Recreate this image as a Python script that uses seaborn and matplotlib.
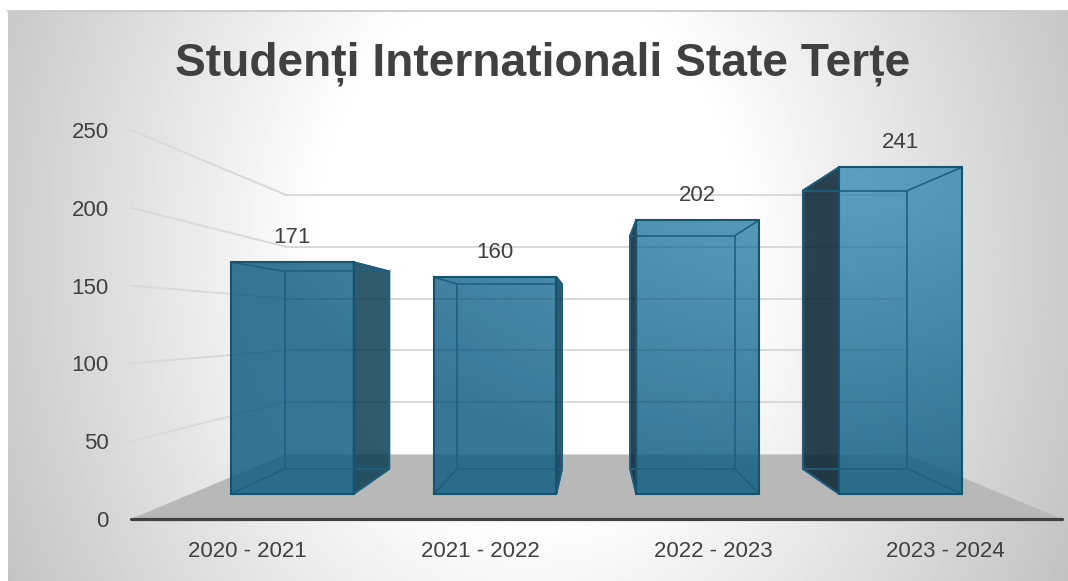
import numpy as np
import matplotlib
matplotlib.use("Agg")
import matplotlib.pyplot as plt
import seaborn as sns
from matplotlib.colors import to_rgba
from matplotlib.patches import Polygon
from matplotlib.transforms import Affine2D, IdentityTransform

categories = ['2020 - 2021', '2021 - 2022', '2022 - 2023', '2023 - 2024']
values = [171, 160, 202, 241]
y_ticks = [0, 50, 100, 150, 200, 250]
title = 'Studenți Internationali State Terțe'

W, H = 1068, 581
TEXT = '#404040'
VP = np.array([595.0, H - 324.5])  # vanishing point, display coords
S_BAR_FRONT, S_BAR_BACK, S_WALL = 0.871, 0.742, 0.668
BASE_DARK = np.array([18, 95, 131]) / 255
BASE_LIGHT = np.array([66, 147, 185]) / 255
SIDE_COLORS = ['#0b3d54', '#0b3d54', '#062231', '#062231']

sns.set_theme(style='white')
plt.rcParams['font.family'] = ['Liberation Sans', 'DejaVu Sans']

fig = plt.figure(figsize=(W / 100, H / 100), dpi=100, facecolor='white')

# grey radial background of the chart area
bg = fig.add_axes([8 / W, 0, (W - 8) / W, (H - 11) / H], zorder=-1)
yy, xx = np.mgrid[11:581, 8:W]
r = np.hypot(xx - 530, (yy - 250) * 0.8)
shade = np.clip(1 - 0.00062 * (r - 210), 0, 1)
bg.imshow(shade, cmap='gray', vmin=0, vmax=1, aspect='auto')
bg.set_xticks([])
bg.set_yticks([])
for name, spine in bg.spines.items():
    spine.set_visible(name == 'top')
    spine.set_color('#c8c8c8')

ax = fig.add_axes([131 / W, (H - 519) / H, 931 / W, 389 / H], zorder=1)
ax.patch.set_visible(False)
sns.barplot(x=categories, y=values, width=0.606, fill=False, color='#15536f',
            linewidth=1.5, ax=ax, zorder=6)
bars = list(ax.patches)
ax.set_xlim(-0.5, 3.5)
ax.set_ylim(0, 250)
sns.despine(ax=ax, left=True, bottom=True)
ax.set_xlabel('')
ax.set_ylabel('')
ax.set_yticks(y_ticks)
ax.tick_params(axis='both', length=0, labelsize=16, labelcolor=TEXT)
ax.tick_params(axis='y', pad=16)
ax.tick_params(axis='x', pad=16)


def persp(s):
    return Affine2D().translate(-VP[0], -VP[1]).scale(s).translate(VP[0], VP[1])


def project(x, y, s):
    p = ax.transData.transform((x, y))
    return VP + s * (p - VP)


def line3d(p0, p1, **kw):
    return ax.plot([p0[0], p1[0]], [p0[1], p1[1]], transform=IdentityTransform(),
                   clip_on=False, **kw)[0]


# floor and walls
floor = [project(-0.5, 0, 1), project(3.5, 0, 1),
         project(3.5, 0, S_WALL), project(-0.5, 0, S_WALL)]
ax.add_patch(Polygon(floor, closed=True, transform=IdentityTransform(),
                     fc='#b8b8b8', ec='none', clip_on=False, zorder=1))
for t in y_ticks[1:]:
    grid = dict(color='#d9d9d9', lw=1.4, zorder=2)
    line3d(project(-0.5, t, 1), project(-0.5, t, S_WALL), **grid)
    line3d(project(-0.5, t, S_WALL), project(3.5, t, S_WALL), **grid)

# colour field behind the bar faces
yy, xx = np.mgrid[0:H, 0:W]
d = np.hypot((xx - 860) * 0.0016, (yy - 170) * 0.0032)
t_field = np.clip(1 - d, 0, 1)[..., None]
field = np.dstack([BASE_DARK + (BASE_LIGHT - BASE_DARK) * t_field,
                   np.full((H, W), 0.85)])

for i, bar in enumerate(bars):
    x0, x1 = bar.get_x(), bar.get_x() + bar.get_width()
    h = bar.get_height()
    bar.set_transform(ax.transData + persp(S_BAR_FRONT))
    bar.set_clip_on(False)

    im = ax.imshow(field, extent=(0, W, 0, H), transform=IdentityTransform(),
                   aspect='auto', zorder=3)
    im.set_clip_path(bar)

    # the side turned to the vanishing point shows outside the front face
    side_x = x1 if project(x1, 0, 1)[0] < VP[0] else x0
    side = [project(side_x, 0, S_BAR_FRONT), project(side_x, h, S_BAR_FRONT),
            project(side_x, h, S_BAR_BACK), project(side_x, 0, S_BAR_BACK)]
    ax.add_patch(Polygon(side, closed=True, transform=IdentityTransform(),
                         fc=to_rgba(SIDE_COLORS[i], 0.85), ec='#15536f', lw=1.3,
                         clip_on=False, zorder=4))

    # wall gridlines faintly visible through the glass
    for t in y_ticks[1:]:
        ln = line3d(project(-0.5, t, S_WALL), project(3.5, t, S_WALL),
                    color='black', alpha=0.04, lw=1.4, zorder=4.5)
        ln.set_clip_on(True)
        ln.set_clip_path(bar)

    # edges seen through the glass
    inner = dict(color='#1f6080', lw=1.2, zorder=5)
    corners = [(x0, 0), (x1, 0), (x1, h), (x0, h)]
    for j, (cx, cy) in enumerate(corners):
        nx, ny = corners[(j + 1) % 4]
        line3d(project(cx, cy, S_BAR_BACK), project(nx, ny, S_BAR_BACK), **inner)
        line3d(project(cx, cy, S_BAR_FRONT), project(cx, cy, S_BAR_BACK), **inner)

    top = project((x0 + x1) / 2, h, S_BAR_FRONT)
    ax.annotate(str(values[i]), xy=top, xycoords='figure pixels', xytext=(0, 18),
                textcoords='offset points', ha='center', va='center',
                fontsize=16, color=TEXT, zorder=8)

ax.plot([-0.5, 3.5], [0, 0], color=TEXT, lw=2.3, solid_capstyle='round',
        clip_on=False, zorder=7)
ax.set_xlim(-0.5, 3.5)
ax.set_ylim(0, 250)

fig.text(543 / W, 1 - 64 / H, title, ha='center', va='center', fontsize=33.2,
         fontweight='bold', color=TEXT)

fig.savefig('out.png', dpi=100)
